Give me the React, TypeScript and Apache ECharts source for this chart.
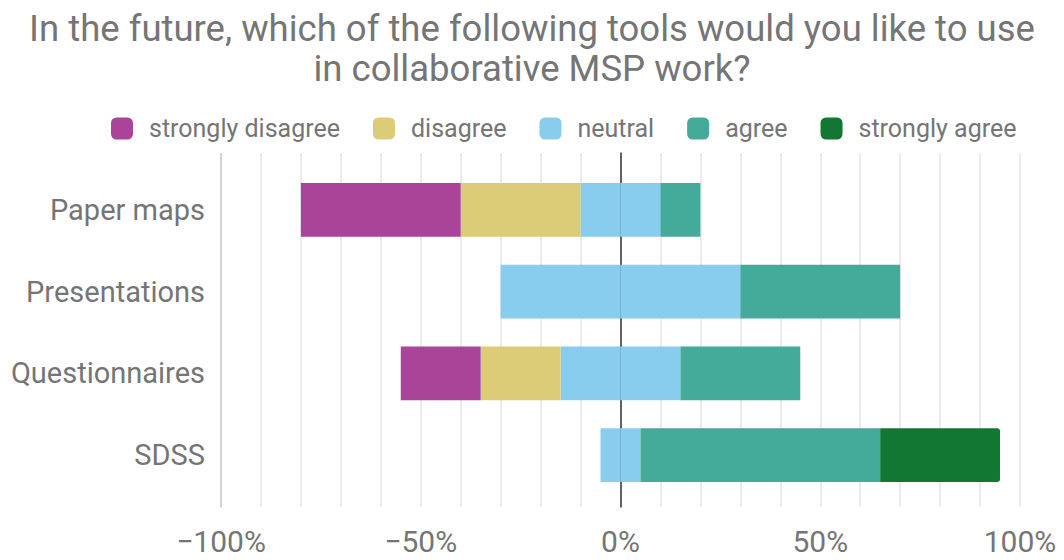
import React, { useEffect, useRef } from "react";
import * as echarts from "echarts";

const categories = ["Paper maps", "Presentations", "Questionnaires", "SDSS"];
const stronglyDisagree = [40, 0, 20, 0];
const disagree = [30, 0, 20, 0];
const neutral = [20, 60, 30, 10];
const agree = [10, 40, 30, 60];
const stronglyAgree = [0, 0, 0, 30];
const tickLabels: Record<number, string> = {
  [-100]: "−100%",
  [-50]: "−50%",
  [0]: "0%",
  [50]: "50%",
  [100]: "100%",
};

const COLORS = {
  sd: "#AA4499",
  d: "#DDCC77",
  n: "#88CCEE",
  a: "#44AA99",
  sa: "#117733",
};
const TEXT = "#757575";
const FONT = "Roboto";

export default function App() {
  const ref = useRef<HTMLDivElement>(null);
  useEffect(() => {
    document.body.style.margin = "0";
    if (!ref.current) return;
    const chart = echarts.init(ref.current, undefined, { renderer: "svg" });
    const neg = (arr: number[]) => arr.map((v) => -v);
    const half = (arr: number[]) => arr.map((v) => v / 2);
    const barBase = {
      type: "bar" as const,
      stack: "total",
      xAxisIndex: 1,
      yAxisIndex: 1,
      barWidth: "66%",
    };
    const splitColors = Array.from({ length: 21 }, (_, i) => (i === 0 ? "#c4c4c4" : "#e4e4e4"));
    chart.setOption({
      animation: false,
      backgroundColor: "#ffffff",
      title: {
        text: "In the future, which of the following tools would you like to use\nin collaborative MSP work?",
        left: "center",
        top: 8,
        padding: [0, 0, 0, 18],
        textStyle: {
          fontFamily: FONT,
          fontSize: 36.5,
          lineHeight: 40,
          fontWeight: "normal",
          color: TEXT,
        },
      },
      legend: {
        data: ["strongly disagree", "disagree", "neutral", "agree", "strongly agree"],
        left: 106,
        top: 111,
        itemWidth: 22,
        itemHeight: 22,
        itemGap: 33,
        icon: "roundRect",
        textStyle: { fontFamily: FONT, fontSize: 25, color: TEXT, padding: [0, 0, 0, 11] },
      },
      grid: [
        { left: 221, right: 44, top: 153, height: 354 },
        { left: 221, right: 44, top: 169, height: 327 },
      ],
      xAxis: [
        {
          gridIndex: 0,
          type: "value",
          min: -100,
          max: 100,
          interval: 10,
          axisLine: { show: false },
          axisTick: { show: false },
          splitLine: { show: true, lineStyle: { color: splitColors, width: 1.5 } },
          axisLabel: {
            fontFamily: FONT,
            fontSize: 30,
            lineHeight: 26,
            color: TEXT,
            margin: 21,
            formatter: (v: number) => tickLabels[v] ?? "",
          },
        },
        {
          gridIndex: 1,
          type: "value",
          min: -100,
          max: 100,
          show: false,
          splitLine: { show: false },
        },
      ],
      yAxis: [
        {
          gridIndex: 0,
          type: "value",
          min: 0,
          max: 1,
          axisLine: { show: true, onZero: true, lineStyle: { color: "#333333", width: 1.5 } },
          axisTick: { show: false },
          axisLabel: { show: false },
          splitLine: { show: false },
        },
        {
          gridIndex: 1,
          type: "category",
          data: categories,
          inverse: true,
          axisLine: { show: false },
          axisTick: { show: false },
          axisLabel: { fontFamily: FONT, fontSize: 29, color: TEXT, margin: 16 },
        },
      ],
      series: [
        { ...barBase, name: "neutral", data: neg(half(neutral)), itemStyle: { color: COLORS.n } },
        { ...barBase, name: "disagree", data: neg(disagree), itemStyle: { color: COLORS.d } },
        { ...barBase, name: "strongly disagree", data: neg(stronglyDisagree), itemStyle: { color: COLORS.sd } },
        { ...barBase, name: "neutral", data: half(neutral), itemStyle: { color: COLORS.n } },
        { ...barBase, name: "agree", data: agree, itemStyle: { color: COLORS.a } },
        {
          ...barBase,
          name: "strongly agree",
          data: stronglyAgree,
          itemStyle: { color: COLORS.sa, borderRadius: [0, 3, 3, 0] },
        },
      ],
    });
    return () => chart.dispose();
  }, []);
  return <div ref={ref} style={{ width: 1064, height: 560 }} />;
}
